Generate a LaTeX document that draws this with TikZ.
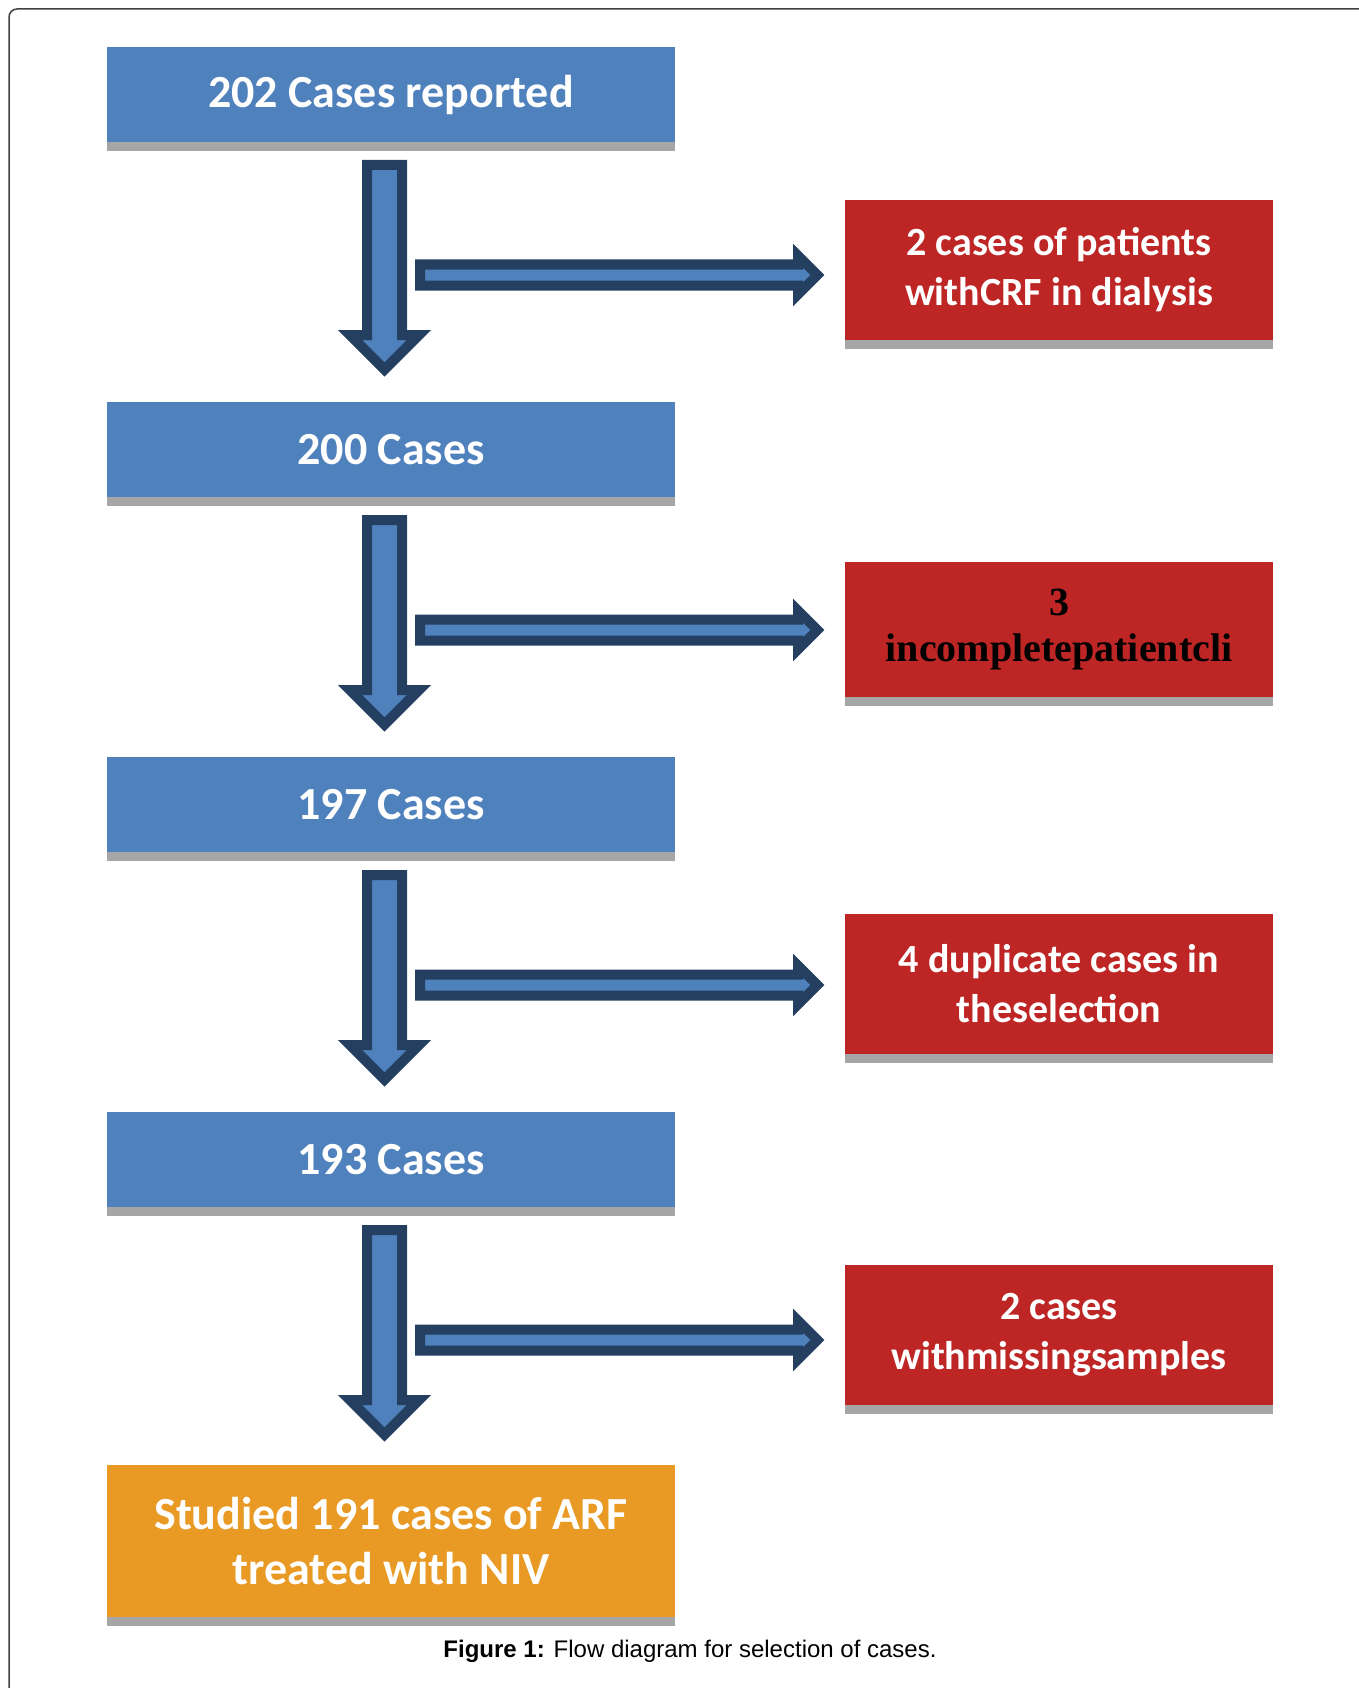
\documentclass[tikz,border=0pt]{standalone}
\usepackage{fontspec}
\setmainfont{Carlito}
\newfontfamily\serifbox{Liberation Serif}
\newfontfamily\captionfont{Liberation Sans}
\definecolor{boxblue}{HTML}{4F81BD}
\definecolor{arrowdark}{HTML}{243F60}
\definecolor{exclred}{HTML}{BE2626}
\definecolor{finalorange}{HTML}{E99A24}
\definecolor{stripgray}{HTML}{A6A6A6}
\definecolor{framegray}{HTML}{404040}

\tikzset{
  stage/.style={rectangle,fill=boxblue,text=white,inner sep=0pt,
    minimum width=568pt,minimum height=95pt,align=center,
    font=\fontsize{46}{55}\selectfont\bfseries},
  excl/.style={rectangle,fill=exclred,text=white,inner sep=0pt,
    minimum width=428pt,minimum height=140pt,align=center,
    font=\fontsize{40}{50}\selectfont\bfseries},
  blockarrow/.style={draw=arrowdark,fill=boxblue,line width=10pt,miter limit=10}
}

\begin{document}
\begin{tikzpicture}[x=1pt,y=-1pt]
\useasboundingbox (0,0) rectangle (1358,1688);
\draw[framegray,line width=1.5pt,rounded corners=8pt] (9,1700)--(9,9)--(1370,9);

% stages
\node[stage] (s1) at (391,94.5) {202 Cases reported};
\node[stage] (s2) at (391,449.5) {200 Cases};
\node[stage] (s3) at (391,804.5) {197 Cases};
\node[stage] (s4) at (391,1159.5) {193 Cases};
\node[stage,fill=finalorange,minimum height=152pt] (final) at (391,1541)
  {Studied 191 cases of ARF\\treated with NIV};

% exclusions
\node[excl] (x1) at (1059,270) {2 cases of patients\\withCRF in dialysis};
\node[excl,minimum height=135pt,text=black,font=\serifbox\fontsize{40}{46}\selectfont\bfseries]
  (x2) at (1059,629.5) {3\\incompletepatientcli};
\node[excl] (x3) at (1059,984) {4 duplicate cases in\\theselection};
\node[excl] (x4) at (1059,1335) {2 cases\\withmissingsamples};

\foreach \b in {s1,s2,s3,s4,final,x1,x2,x3,x4}
  \fill[stripgray] (\b.south west) rectangle ([yshift=-9pt]\b.south east);

% block arrows
\foreach \k in {0,1,2,3}{
  \coordinate (dn\k) at (384.5,165+355*\k);
  \coordinate (rt\k) at (420,275+355*\k);
  \draw[blockarrow] (dn\k) ++(-17.5,0) --++(35,0) --++(0,170) --++(17,0)
    --++(-34.5,34.5) --++(-34.5,-34.5) --++(17,0) -- cycle;
  \draw[blockarrow] (rt\k) ++(0,-10.5) --++(378,0) --++(0,-8.9) --++(19.4,19.4)
    --++(-19.4,19.4) --++(0,-8.9) --++(-378,0) -- cycle;
}

\node[font=\captionfont\fontsize{24}{28}\selectfont] (cap) at (690,1651)
  {\textbf{Figure 1:} Flow diagram for selection of cases.};
\end{tikzpicture}
\end{document}
